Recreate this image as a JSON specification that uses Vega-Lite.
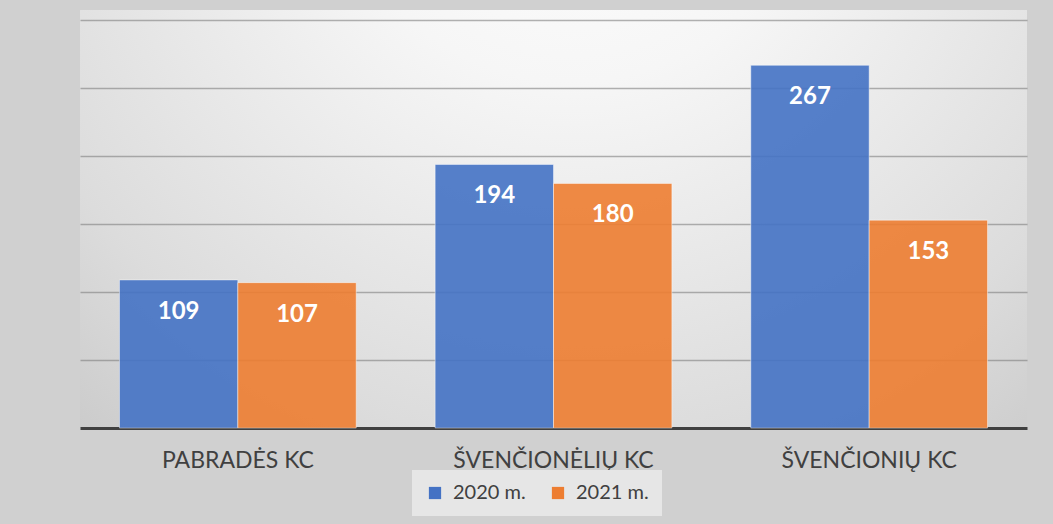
{
  "$schema": "https://vega.github.io/schema/vega-lite/v6.json",
  "width": 947,
  "height": 418,
  "autosize": {"type": "none"},
  "padding": {"left": 80, "top": 10, "right": 26, "bottom": 96},
  "background": "#d0d0d0",
  "data": {
    "values": [
      {"kc": "PABRADĖS KC", "metai": "2020 m.", "n": 109},
      {"kc": "PABRADĖS KC", "metai": "2021 m.", "n": 107},
      {"kc": "ŠVENČIONĖLIŲ KC", "metai": "2020 m.", "n": 194},
      {"kc": "ŠVENČIONĖLIŲ KC", "metai": "2021 m.", "n": 180},
      {"kc": "ŠVENČIONIŲ KC", "metai": "2020 m.", "n": 267},
      {"kc": "ŠVENČIONIŲ KC", "metai": "2021 m.", "n": 153}
    ]
  },
  "encoding": {
    "x": {
      "field": "kc", "type": "nominal", "sort": null,
      "scale": {"paddingInner": 0.25, "paddingOuter": 0.125},
      "axis": {
        "title": null, "labelAngle": 0, "ticks": false, "labelLimit": 0,
        "domainColor": "#404040", "domainWidth": 3,
        "labelFont": "Lato", "labelFontSize": 23, "labelColor": "#404040",
        "labelPadding": 21
      }
    },
    "xOffset": {"field": "metai", "type": "nominal", "scale": {"paddingInner": 0, "paddingOuter": 0}},
    "y": {
      "field": "n", "type": "quantitative",
      "scale": {"domain": [0, 307.7], "nice": false, "zero": true},
      "axis": {
        "title": null, "labels": false, "ticks": false, "domain": false,
        "values": [50, 100, 150, 200, 250, 300],
        "grid": true, "gridColor": "#7f7f7f", "gridOpacity": 0.6, "gridWidth": 1.5
      }
    }
  },
  "layer": [
    {
      "mark": {"type": "bar", "fillOpacity": 0.9, "stroke": "#ffffff", "strokeOpacity": 0.45, "strokeWidth": 1},
      "encoding": {
        "color": {
          "field": "metai", "type": "nominal",
          "scale": {"range": ["#4472c4", "#ed7d31"]},
          "legend": {
            "title": null, "orient": "none", "direction": "horizontal",
            "legendX": 332, "legendY": 460,
            "fillColor": "#e6e6e6", "padding": 13,
            "symbolType": "square", "symbolSize": 150, "symbolStrokeWidth": 0,
            "labelFont": "Lato", "labelFontSize": 20, "labelColor": "#404040",
            "labelOffset": 8, "columnPadding": 22
          }
        }
      }
    },
    {
      "mark": {"type": "text", "color": "#ffffff", "font": "Lato", "fontWeight": "bold", "fontSize": 24, "baseline": "middle", "dy": 32},
      "encoding": {
        "text": {"field": "n", "type": "quantitative"}
      }
    }
  ],
  "config": {
    "view": {
      "stroke": null,
      "fill": {
        "gradient": "radial",
        "x1": 0.52, "y1": 0.1, "r1": 0,
        "x2": 0.52, "y2": 0.1, "r2": 0.85,
        "stops": [
          {"offset": 0, "color": "#ffffff"},
          {"offset": 0.3, "color": "#f6f6f6"},
          {"offset": 0.75, "color": "#dcdcdc"},
          {"offset": 1, "color": "#c8c8c8"}
        ]
      }
    }
  }
}
